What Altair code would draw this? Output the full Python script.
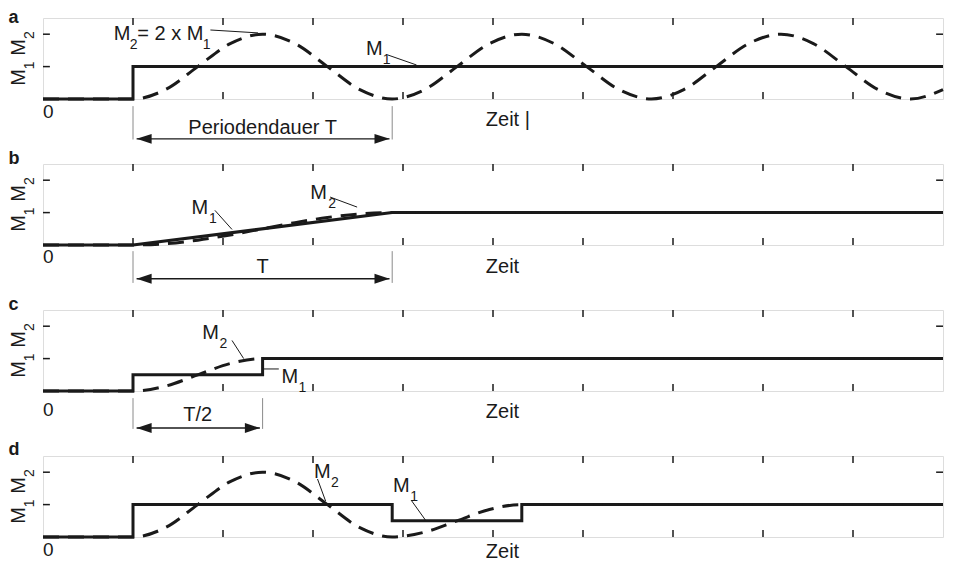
import altair as alt
import pandas as pd

# ---------------- data ----------------
TIME_TICKS = [1, 2, 3, 4, 5, 6, 7, 8, 9]
LEVEL_TICKS = [1, 2]
T_DOMAIN = [0, 10]
M_DOMAIN = [0, 2.5]

# panel a : step of M1, M2 oscillates (M2 = 2 x M1 at peaks)
A_M1_T = [0, 1, 1, 10]
A_M1_V = [0, 0, 1, 1]
A_M2_T = [0, 1, 1.36, 1.72, 2.08, 2.44, 2.80, 3.16, 3.52, 3.88, 4.24, 4.60, 4.96,
          5.32, 5.68, 6.04, 6.40, 6.76, 7.12, 7.48, 7.84, 8.20, 8.56, 8.92, 9.28, 9.64, 10.0]
A_M2_V = [0, 0, 0.29, 1.0, 1.71, 2.0, 1.71, 1.0, 0.29, 0, 0.29, 1.0, 1.71,
          2.0, 1.71, 1.0, 0.29, 0, 0.29, 1.0, 1.71, 2.0, 1.71, 1.0, 0.29, 0, 0.29]

# panel b : ramp of M1 over T
B_M1_T = [0, 1, 3.88, 10]
B_M1_V = [0, 0, 1, 1]
B_M2_T = [0, 1, 1.36, 1.72, 2.08, 2.44, 2.80, 3.16, 3.52, 3.88, 10]
B_M2_V = [0, 0, 0.04, 0.15, 0.31, 0.5, 0.69, 0.85, 0.96, 1, 1]

# panel c : two half steps T/2 apart
C_M1_T = [0, 1, 1, 2.44, 2.44, 10]
C_M1_V = [0, 0, 0.5, 0.5, 1, 1]
C_M2_T = [0, 1, 1.36, 1.72, 2.08, 2.44, 10]
C_M2_V = [0, 0, 0.15, 0.5, 0.85, 1, 1]

# panel d : step, half-step down, step up
D_M1_T = [0, 1, 1, 3.88, 3.88, 5.32, 5.32, 10]
D_M1_V = [0, 0, 1, 1, 0.5, 0.5, 1, 1]
D_M2_T = [0, 1, 1.36, 1.72, 2.08, 2.44, 2.80, 3.16, 3.52, 3.88, 4.24, 4.60, 4.96, 5.32, 10]
D_M2_V = [0, 0, 0.29, 1, 1.71, 2, 1.71, 1, 0.29, 0, 0.15, 0.5, 0.85, 1, 1]

PANELS = ["a", "b", "c", "d"]
DIM_PANELS = ["a", "b", "c"]
DIM_START = [1, 1, 1]
DIM_END = [3.88, 3.88, 2.44]
DIM_LABELS = ["Periodendauer T", "T", "T/2"]
ZEIT_LABELS = ["Zeit |", "Zeit", "Zeit", "Zeit"]

# ---------------- layout of annotations (in data units) ----------------
LETTER_V = {"a": 2.346, "b": 2.5, "c": 2.5, "d": 2.52}
ZERO_V = {"a": -0.59, "b": -0.56, "c": -0.78, "d": -0.60}
ZEIT_V = {"a": -0.83, "b": -0.86, "c": -0.83, "d": -0.645}
# dimension lines: guide top, guide bottom, arrow, label baseline
DIM_GEOM = {"a": (-0.22, -1.25, -1.23, -1.08),
            "b": (-0.19, -1.17, -1.04, -0.86),
            "c": (-0.22, -1.17, -1.14, -0.93)}
# labels: (kind, text, t, v)
LABELS = {
    "a": [("big", "M", 0.786, 1.82), ("sub", "2", 0.965, 1.54),
          ("big", "= 2 x M", 1.048, 1.82), ("sub", "1", 1.775, 1.54),
          ("big", "M", 3.59, 1.36), ("sub", "1", 3.775, 1.08)],
    "b": [("big", "M", 1.65, 0.96), ("sub", "1", 1.845, 0.68),
          ("big", "M", 2.97, 1.42), ("sub", "2", 3.17, 1.14)],
    "c": [("big", "M", 1.77, 1.6), ("sub", "2", 1.96, 1.33),
          ("big", "M", 2.65, 0.25), ("sub", "1", 2.84, -0.03)],
    "d": [("big", "M", 3.01, 1.82), ("sub", "2", 3.2, 1.54),
          ("big", "M", 3.89, 1.39), ("sub", "1", 4.08, 1.11)],
}
LEADERS = {
    "a": [(1.86, 2.13, 2.39, 2.04), (3.83, 1.36, 4.15, 1.05)],
    "b": [(1.91, 1.07, 2.10, 0.48), (3.19, 1.48, 3.49, 1.17)],
    "c": [(2.10, 1.56, 2.23, 1.0), (2.45, 0.68, 2.62, 0.68)],
    "d": [(3.05, 1.79, 3.14, 1.11), (4.09, 1.14, 4.25, 0.52)],
}

SERIES = {
    "a": (A_M1_T, A_M1_V, A_M2_T, A_M2_V),
    "b": (B_M1_T, B_M1_V, B_M2_T, B_M2_V),
    "c": (C_M1_T, C_M1_V, C_M2_T, C_M2_V),
    "d": (D_M1_T, D_M1_V, D_M2_T, D_M2_V),
}

FONT = "Liberation Sans"
INK = "#1a1a1a"
W, H = 900, 81
TX = 7 / 91.6   # tick length in t units
TY = 7 / 32.4   # tick length in M units

xs = alt.Scale(domain=T_DOMAIN, nice=False)
ys = alt.Scale(domain=M_DOMAIN, nice=False)
X = lambda f: alt.X(f, type="quantitative", scale=xs, axis=None)
Y = lambda f: alt.Y(f, type="quantitative", scale=ys, axis=None)


def make_panel(key, idx):
    m1t, m1v, m2t, m2v = SERIES[key]
    layers = []
    # ticks (inside the frame)
    tk = pd.DataFrame({"t": TIME_TICKS})
    tk_b = tk.assign(y0=M_DOMAIN[0], y1=M_DOMAIN[0] + TY)
    tk_t = tk.assign(y0=M_DOMAIN[1] - TY, y1=M_DOMAIN[1])
    for d in (tk_b, tk_t):
        layers.append(alt.Chart(d).mark_rule(color=INK, strokeWidth=1.5).encode(
            x=X("t"), y=Y("y0"), y2="y1"))
    lv = pd.DataFrame({"v": LEVEL_TICKS})
    lv_l = lv.assign(x0=T_DOMAIN[0], x1=T_DOMAIN[0] + TX)
    lv_r = lv.assign(x0=T_DOMAIN[1] - TX, x1=T_DOMAIN[1])
    for d in (lv_l, lv_r):
        layers.append(alt.Chart(d).mark_rule(color=INK, strokeWidth=1.5).encode(
            y=Y("v"), x=X("x0"), x2="x1"))

    # series
    d1 = pd.DataFrame({"t": m1t, "v": m1v, "i": range(len(m1t))})
    d2 = pd.DataFrame({"t": m2t, "v": m2v, "i": range(len(m2t))})
    layers.append(alt.Chart(d1).mark_line(color=INK, strokeWidth=3, strokeJoin="miter",
                                          strokeCap="butt").encode(
        x=X("t"), y=Y("v"), order="i:Q"))
    layers.append(alt.Chart(d2).mark_line(color=INK, strokeWidth=3, strokeDash=[16, 9],
                                          interpolate="monotone", strokeCap="butt").encode(
        x=X("t"), y=Y("v"), order="i:Q"))

    # leader lines
    ld = pd.DataFrame(LEADERS[key], columns=["x0", "y0", "x1", "y1"])
    layers.append(alt.Chart(ld).mark_rule(color=INK, strokeWidth=1).encode(
        x=X("x0"), y=Y("y0"), x2="x1", y2="y1"))

    # dimension arrows
    if key in DIM_PANELS:
        j = DIM_PANELS.index(key)
        g0, g1, ay, lyv = DIM_GEOM[key]
        s, e = DIM_START[j], DIM_END[j]
        gd = pd.DataFrame({"t": [s, e], "y0": [g0, g0], "y1": [g1, g1]})
        layers.append(alt.Chart(gd).mark_rule(color="#8a8a8a", strokeWidth=1).encode(
            x=X("t"), y=Y("y0"), y2="y1"))
        ar = pd.DataFrame({"x0": [s + 0.04], "x1": [e - 0.03], "y": [ay]})
        layers.append(alt.Chart(ar).mark_rule(color=INK, strokeWidth=1.4).encode(
            x=X("x0"), x2="x1", y=Y("y")))
        hl = pd.DataFrame({"t": [s + 0.04], "y": [ay]})
        hr = pd.DataFrame({"t": [e - 0.03], "y": [ay]})
        layers.append(alt.Chart(hl).mark_point(shape="M0,0L1,-0.33L1,0.33Z", size=900,
                                               filled=True, color=INK, opacity=1,
                                               strokeWidth=0).encode(x=X("t"), y=Y("y")))
        layers.append(alt.Chart(hr).mark_point(shape="M0,0L-1,-0.33L-1,0.33Z", size=900,
                                               filled=True, color=INK, opacity=1,
                                               strokeWidth=0).encode(x=X("t"), y=Y("y")))
        lab = pd.DataFrame({"t": [(s + e) / 2], "y": [lyv], "txt": [DIM_LABELS[j]]})
        layers.append(alt.Chart(lab).mark_text(font=FONT, fontSize=20, color=INK,
                                               align="center", baseline="alphabetic").encode(
            x=X("t"), y=Y("y"), text="txt:N"))

    # texts
    rows = LABELS[key]
    big = pd.DataFrame([r[1:] for r in rows if r[0] == "big"], columns=["txt", "t", "y"])
    sub = pd.DataFrame([r[1:] for r in rows if r[0] == "sub"], columns=["txt", "t", "y"])
    big = pd.concat([big, pd.DataFrame({"txt": [ZEIT_LABELS[idx]], "t": [4.92],
                                        "y": [ZEIT_V[key]]})])
    layers.append(alt.Chart(big).mark_text(font=FONT, fontSize=20, color=INK, align="left",
                                           baseline="alphabetic").encode(
        x=X("t"), y=Y("y"), text="txt:N"))
    layers.append(alt.Chart(sub).mark_text(font=FONT, fontSize=14, color=INK, align="left",
                                           baseline="alphabetic").encode(
        x=X("t"), y=Y("y"), text="txt:N"))
    zero = pd.DataFrame({"txt": ["0"], "t": [0], "y": [ZERO_V[key]]})
    layers.append(alt.Chart(zero).mark_text(font=FONT, fontSize=19, color=INK, align="left",
                                            baseline="alphabetic").encode(
        x=X("t"), y=Y("y"), text="txt:N"))
    letter = pd.DataFrame({"txt": [key], "t": [-0.382], "y": [LETTER_V[key]]})
    layers.append(alt.Chart(letter).mark_text(font=FONT, fontSize=18, fontWeight="bold",
                                              color=INK, align="left",
                                              baseline="alphabetic").encode(
        x=X("t"), y=Y("y"), text="txt:N"))
    # rotated axis label  M1 M2
    rb = pd.DataFrame({"txt": ["M", "M"], "t": [-0.2, -0.2], "y": [0.665, 1.59]})
    rs = pd.DataFrame({"txt": ["1", "2"], "t": [-0.1, -0.1], "y": [1.04, 1.97]})
    layers.append(alt.Chart(rb).mark_text(font=FONT, fontSize=20, color=INK, angle=270,
                                          align="center", baseline="alphabetic").encode(
        x=X("t"), y=Y("y"), text="txt:N"))
    layers.append(alt.Chart(rs).mark_text(font=FONT, fontSize=14, color=INK, angle=270,
                                          align="center", baseline="alphabetic").encode(
        x=X("t"), y=Y("y"), text="txt:N"))

    return alt.layer(*layers).properties(width=W, height=H)


panels = [make_panel(k, i) for i, k in enumerate(PANELS)]
chart = alt.vconcat(*panels, spacing=65, bounds="flush").properties(
    padding={"left": 0, "top": 0, "right": 0, "bottom": 0}
).configure_view(stroke=INK, strokeWidth=1.2).configure(background="white")

chart.save("out.html", embed_options={"renderer": "svg", "actions": False})
